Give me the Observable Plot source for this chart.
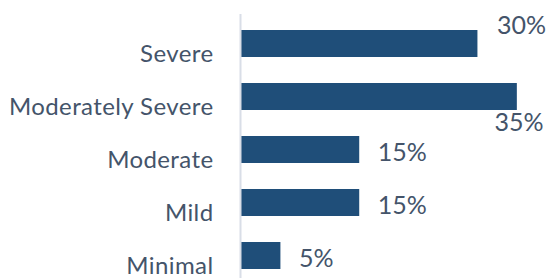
<!DOCTYPE html>
<html>
<head>
<meta charset="utf-8">
<script src="https://cdn.jsdelivr.net/npm/d3@7"></script>
<script src="https://cdn.jsdelivr.net/npm/@observablehq/plot@0.6"></script>
<style>
  html, body { margin: 0; padding: 0; background: #fff; }
</style>
</head>
<body>
<div id="chart"></div>
<script>
const categories = ["Severe", "Moderately Severe", "Moderate", "Mild", "Minimal"];
const values = [30, 35, 15, 15, 5];
const valueLabels = ["30%", "35%", "15%", "15%", "5%"];

const data = categories.map((c, i) => ({category: c, value: values[i], label: valueLabels[i]}));

const textColor = "#44546a";
const barColor = "#1f4e79";

const chart = Plot.plot({
  width: 546,
  height: 278,
  marginLeft: 241,
  marginRight: 0,
  marginTop: 20,
  marginBottom: 0,
  style: {fontFamily: "Lato", color: textColor, background: "#fff"},
  x: {domain: [0, 38.7], axis: null},
  y: {domain: categories, paddingInner: 0.5, paddingOuter: 0.17, label: null},
  marks: [
    Plot.axisY({tickSize: 0, tickPadding: 28, dy: 10, fontSize: 24, fill: textColor, label: null}),
    Plot.barX(data, {x: "value", y: "category", fill: barColor}),
    Plot.ruleX([0], {stroke: "#d9dee7", strokeWidth: 2, dx: -1, insetTop: -6}),
    Plot.text(data.filter(d => d.category !== "Severe" && d.category !== "Moderately Severe"), {
      x: "value", y: "category", text: "label", dx: 18, dy: 3,
      textAnchor: "start", fontSize: 25, fill: textColor
    }),
    Plot.text(data.filter(d => d.category === "Severe"), {
      x: "value", y: "category", text: "label", dx: 19, dy: -18,
      textAnchor: "start", fontSize: 25, fill: textColor
    }),
    Plot.text(data.filter(d => d.category === "Moderately Severe"), {
      y: "category", text: "label", frameAnchor: "right", dx: -3, dy: 26,
      textAnchor: "end", fontSize: 25, fill: textColor
    })
  ]
});
chart.querySelectorAll("g[aria-label='y-axis tick label']").forEach(el => el.setAttribute("letter-spacing", "0.4"));
document.getElementById("chart").appendChild(chart);
</script>
</body>
</html>
